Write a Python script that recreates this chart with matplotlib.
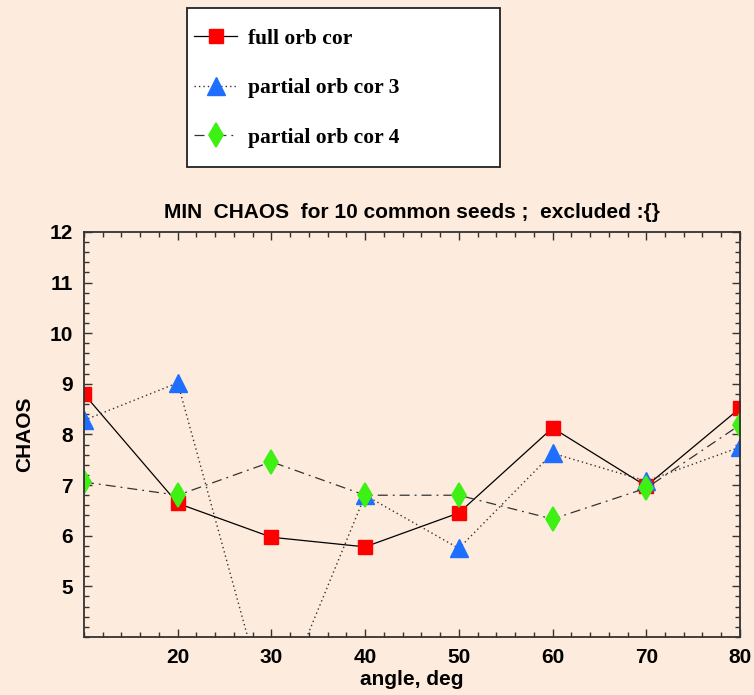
import numpy as np
import matplotlib
matplotlib.use("Agg")
import matplotlib.pyplot as plt
from matplotlib.patches import Rectangle
from matplotlib.ticker import MultipleLocator

# min chaos vs angle
angle = [10, 20, 30, 40, 50, 60, 70, 80]
full_orb = [8.80, 6.64, 5.97, 5.78, 6.45, 8.13, 6.98, 8.52]
partial_3 = [8.28, 9.02, 2.30, 6.80, 5.75, 7.63, 7.08, 7.75]
partial_4 = [7.06, 6.80, 7.46, 6.80, 6.80, 6.33, 6.94, 8.19]
labels = ["full orb cor", "partial orb cor 3", "partial orb cor 4"]

bg = "#fdebdd"
sans = dict(family=["Liberation Sans", "DejaVu Sans"], weight="bold")
serif = ["Liberation Serif", "DejaVu Serif"]

fig = plt.figure(figsize=(7.54, 6.95), dpi=100, facecolor=bg)
ax = fig.add_axes([0.1114, 0.0835, 0.870, 0.5827])
ax.set_facecolor(bg)

l1, = ax.plot(angle, full_orb, color="black", lw=0.9, ls="-",
              marker="s", ms=10.6, mfc="#ff0000", mec="#ff0000")
l2, = ax.plot(angle, partial_3, color="#333333", lw=1.0, ls=(0, (1, 2.2)),
              marker="^", ms=13, mfc="#1e6fff", mec="#1e6fff")
l3, = ax.plot(angle, partial_4, color="#333333", lw=0.9, ls=(0, (8, 4, 1.5, 4)),
              marker="d", ms=12, mfc="#3ff014", mec="#3ff014", mew=1.2)

ax.set_xlim(10, 80)
ax.set_ylim(4, 12)
ax.set_xticks([20, 30, 40, 50, 60, 70, 80])
ax.set_yticks([5, 6, 7, 8, 9, 10, 11, 12])
ax.xaxis.set_minor_locator(MultipleLocator(2))
ax.yaxis.set_minor_locator(MultipleLocator(0.2))
ax.tick_params(which="both", direction="in", top=True, right=True,
               color="#333333", width=1.0)
ax.tick_params(which="major", length=6, pad=8)
ax.tick_params(which="minor", length=3.5)
for sp in ax.spines.values():
    sp.set_color("#333333")
    sp.set_linewidth(1.3)

for t in ax.get_xticklabels() + ax.get_yticklabels():
    t.set(**sans)
    t.set_fontsize(15)

ax.set_xlabel("angle, deg", fontsize=15, labelpad=2, **sans)
ax.set_ylabel("CHAOS", fontsize=15, labelpad=11, **sans)
ax.set_title("MIN  CHAOS  for 10 common seeds ;  excluded :{}",
             fontsize=15, pad=10, **sans)

# legend box drawn separately so the padding can differ per side
box = Rectangle((0.248, 0.7597), 0.415, 0.2288, transform=fig.transFigure,
                facecolor="white", edgecolor="#222222", lw=1.3, zorder=0)
fig.patches.append(box)
leg = fig.legend([l1, l2, l3], labels, loc="upper left",
                 bbox_to_anchor=(0.2573, 0.959),
                 prop={"family": serif, "weight": "bold", "size": 15.5},
                 frameon=False, handlelength=2.0, handletextpad=0.5,
                 labelspacing=1.37, borderpad=0, borderaxespad=0)

fig.savefig("out.png", dpi=100, facecolor=bg)
